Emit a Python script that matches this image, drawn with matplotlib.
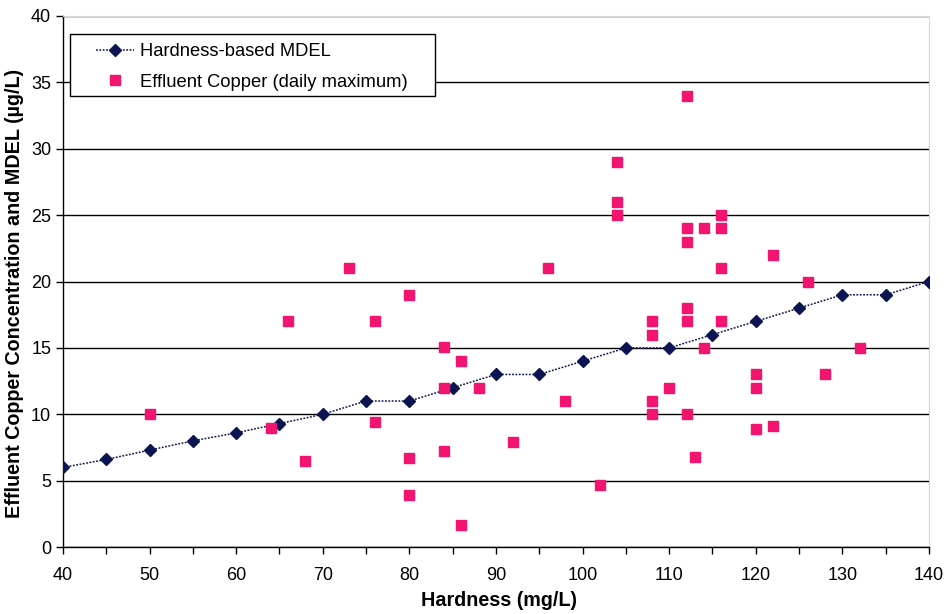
import numpy as np
import matplotlib
matplotlib.use("Agg")
import matplotlib.pyplot as plt
from matplotlib.patches import Rectangle
from matplotlib.ticker import MultipleLocator

# --- Data ---

# Hardness-based MDEL (every 5 mg/L)
mdel_hardness = [40, 45, 50, 55, 60, 65, 70, 75, 80, 85, 90, 95, 100,
                 105, 110, 115, 120, 125, 130, 135, 140]
mdel_values = [6.0, 6.6, 7.3, 8.0, 8.6, 9.3, 10.0, 11.0, 11.0, 12.0, 13.0, 13.0, 14.0,
               15.0, 15.0, 16.0, 17.0, 18.0, 19.0, 19.0, 20.0]

# Effluent copper daily maximum
cu_hardness = [50, 64, 66, 68, 73, 76, 76, 80, 80, 80,
               84, 84, 84, 86, 86, 88, 92, 96, 98, 102,
               104, 104, 104, 108, 108, 108, 108, 110, 112, 112,
               112, 112, 112, 112, 113, 114, 114, 116, 116, 116,
               116, 120, 120, 120, 122, 122, 126, 128, 132]
cu_values = [10.0, 9.0, 17.0, 6.5, 21.0, 17.0, 9.4, 19.0, 6.7, 3.9,
             15.1, 12.0, 7.2, 14.0, 1.7, 12.0, 7.9, 21.0, 11.0, 4.7,
             29.0, 26.0, 25.0, 17.0, 16.0, 11.0, 10.0, 12.0, 34.0, 24.0,
             23.0, 18.0, 17.0, 10.0, 6.8, 24.0, 15.0, 25.0, 24.0, 21.0,
             17.0, 13.0, 12.0, 8.9, 22.0, 9.1, 20.0, 13.0, 15.0]

navy = "#0c1552"
pink = "#f2146f"

plt.rcParams['font.family'] = ['Liberation Sans', 'DejaVu Sans']

fig = plt.figure(figsize=(9.47, 6.14), dpi=100)
ax = fig.add_axes([0.0665, 0.109, 0.9145, 0.865])

ax.plot(mdel_hardness, mdel_values, color=navy, lw=1.1, ls=(0, (1.2, 1.0)),
        marker="D", ms=6.3, mfc=navy, mec=navy, label="Hardness-based MDEL", zorder=3)
ax.plot(cu_hardness, cu_values, ls="none", marker="s", ms=6.5, mfc=pink, mec=pink,
        label="Effluent Copper (daily maximum)", zorder=4)

ax.set_xlim(40, 140)
ax.set_ylim(0, 40)
ax.xaxis.set_major_locator(MultipleLocator(10))
ax.xaxis.set_minor_locator(MultipleLocator(5))
ax.yaxis.set_major_locator(MultipleLocator(5))

ax.grid(axis="y", which="major", color="black", lw=1.0)
ax.set_axisbelow(True)

for side in ("top", "right"):
    ax.spines[side].set_color("#d8d8d8")
    ax.spines[side].set_linewidth(0.8)
for side in ("left", "bottom"):
    ax.spines[side].set_color("black")
    ax.spines[side].set_linewidth(1.0)

ax.tick_params(axis="both", which="major", direction="out", length=5, width=1,
               labelsize=13, colors="black")
ax.tick_params(axis="x", which="minor", direction="out", length=5, width=1)
ax.tick_params(axis="x", pad=9)

ax.set_xlabel("Hardness (mg/L)", fontsize=14.2, fontweight="bold")
ax.xaxis.set_label_coords(0.504, -0.082)
ax.set_ylabel("Effluent Copper Concentration and MDEL (\u00b5g/L)", fontsize=14.2,
              fontweight="bold")
ax.yaxis.set_label_coords(-0.045, 0.478)

# legend box: wider padding on the sides than a normal legend frame
box = Rectangle((0.0081, 0.849), 0.4215, 0.117, transform=ax.transAxes,
                facecolor="white", edgecolor="black", lw=1.0, zorder=5)
ax.add_patch(box)
leg = ax.legend(loc="upper left", bbox_to_anchor=(0.038, 0.949),
                fontsize=13.2, frameon=False, borderpad=0, borderaxespad=0,
                handlelength=2.1, handletextpad=0.3, labelspacing=0.75)
leg.set_zorder(6)

fig.savefig("out.png", dpi=100, facecolor="white")
